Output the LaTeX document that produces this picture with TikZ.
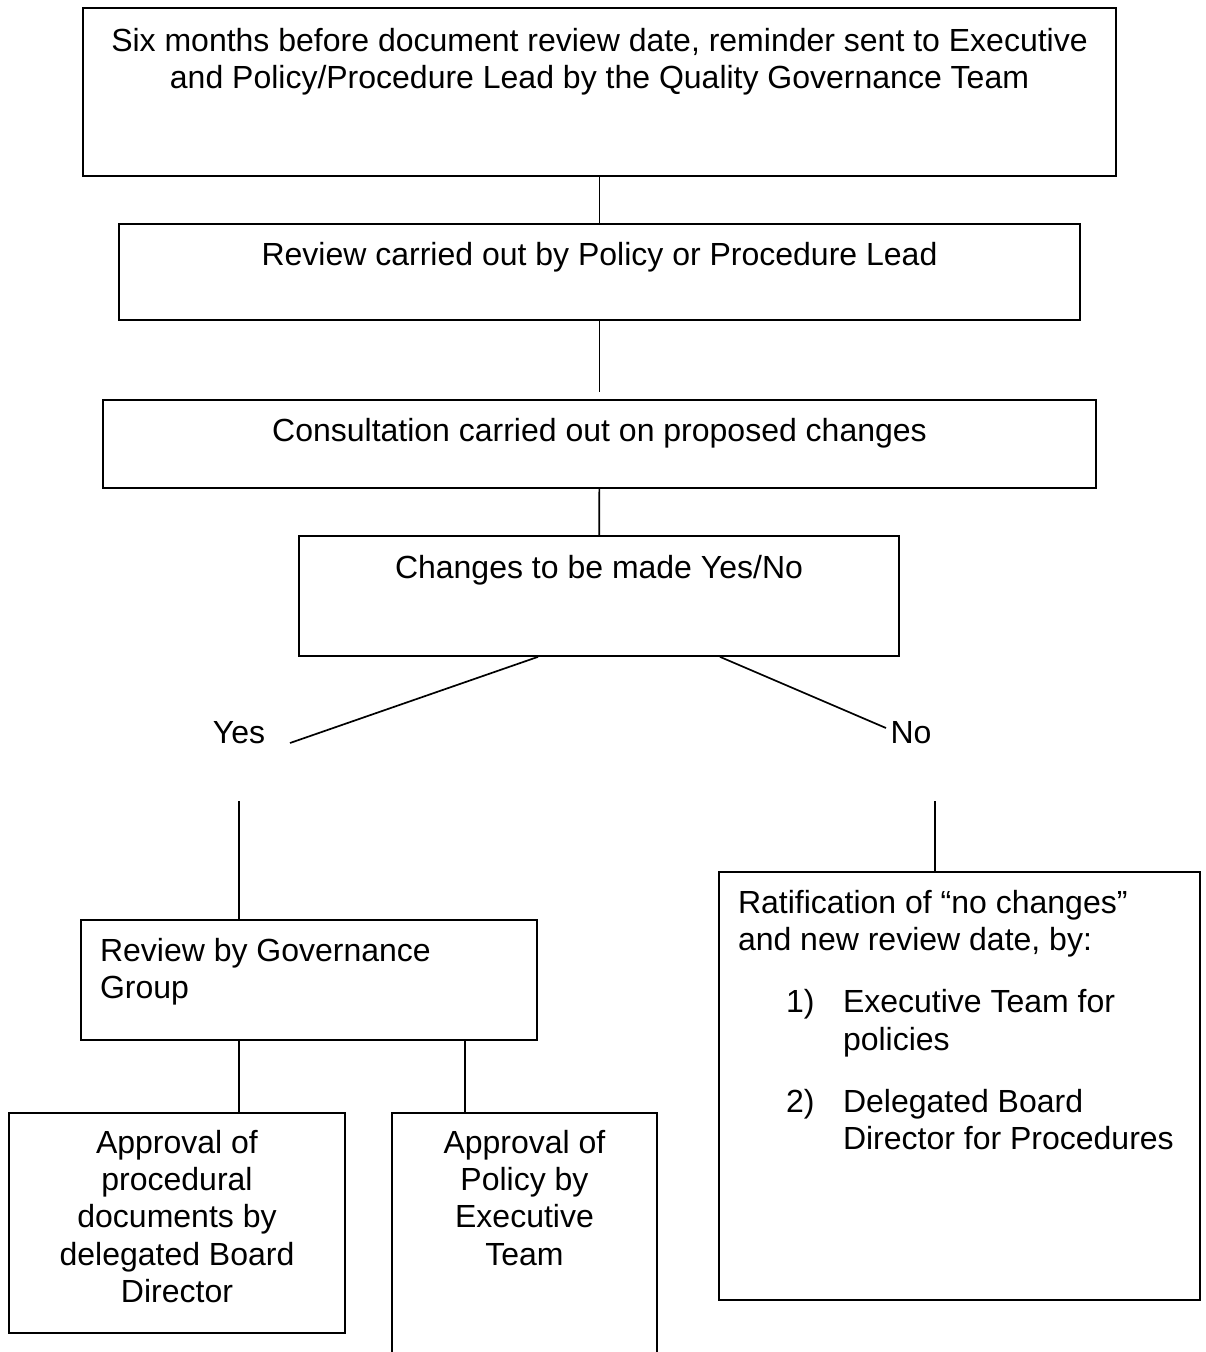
\documentclass[tikz,border=0pt]{standalone}
\usepackage{fontspec}
\setmainfont{Liberation Sans}
\usetikzlibrary{positioning}
\newcommand{\flowfont}{\fontsize{32}{37.3}\selectfont}

\begin{document}
\begin{tikzpicture}[x=1pt, y=-1pt, line width=1.7pt,
    flowbox/.style={draw, inner sep=0pt},
    flowtext/.style={font=\flowfont, inner sep=0pt, align=center},
    lefttext/.style={font=\flowfont, inner sep=0pt, align=left}]
    \useasboundingbox (0,0) rectangle (1205,1352);

    % main column of boxes
    \node[flowbox, minimum width=1033pt, minimum height=168pt] (remind) at (599.5,92) {};
    \node[flowbox, minimum width=961pt, minimum height=96pt] (review) at (599.5,272) {};
    \node[flowbox, minimum width=993pt, minimum height=88pt] (consult) at (599.5,444) {};
    \node[flowbox, minimum width=600pt, minimum height=120pt] (check) at (599,596) {};

    % lower boxes
    \node[flowbox, minimum width=456pt, minimum height=120pt] (govern) at (309,980) {};
    \node[flowbox, minimum width=336pt, minimum height=220pt] (procapp) at (177,1223) {};
    \node[flowbox, minimum width=265pt, minimum height=277pt] (polapp) at (524.5,1251.5) {};
    \node[flowbox, minimum width=481pt, minimum height=428pt] (ratify) at (959.5,1086) {};

    % texts, set at the top of each box
    \node[flowtext, below=20pt of remind.north] (remindtxt) {Six months before document review date, reminder sent to Executive\\and Policy/Procedure Lead by the Quality Governance Team};
    \node[flowtext, below=18pt of review.north] (reviewtxt) {Review carried out by Policy or Procedure Lead};
    \node[flowtext, below=18pt of consult.north] (consulttxt) {Consultation carried out on proposed changes};
    \node[flowtext, below=19pt of check.north] (checktxt) {Changes to be made Yes/No};
    \node[lefttext, below right=18pt and 19pt of govern.north west] (governtxt) {Review by Governance\\Group};
    \node[flowtext, below=17pt of procapp.north] (procapptxt) {Approval of\\procedural\\documents by\\delegated Board\\Director};
    \node[flowtext, below=17pt of polapp.north] (polapptxt) {Approval of\\Policy by\\Executive\\Team};
    \node[lefttext, below right=18pt and 19pt of ratify.north west] (ratifytxt) {Ratification of “no changes”\\and new review date, by:\\[25pt]
        \hspace*{48pt}\makebox[57pt][l]{1)}Executive Team for\\
        \hspace*{105pt}policies\\[25pt]
        \hspace*{48pt}\makebox[57pt][l]{2)}Delegated Board\\
        \hspace*{105pt}Director for Procedures};

    % Yes / No
    \node[flowtext] (yes) at (239,733) {Yes};
    \node[flowtext] (no) at (911,733) {No};

    % free ends of the connectors
    \coordinate (gap) at (599.5,392);
    \coordinate (yesend) at (290,743);
    \coordinate (noend) at (886,728);
    \coordinate (yestop) at (239,801);
    \coordinate (notop) at (935,801);
    \coordinate (govl) at ([xshift=-70pt]govern.south);
    \coordinate (govr) at ([xshift=156pt]govern.south);

    % connectors
    \draw (remind) -- (review);
    \draw (review.south) -- (gap);
    \draw (consult) -- (check);
    \draw ([xshift=-61pt]check.south) -- (yesend);
    \draw ([xshift=121pt]check.south) -- (noend);
    \draw (yestop) -- (yestop |- govern.north);
    \draw (notop) -- (notop |- ratify.north);
    \draw (govl) -- (govl |- procapp.north);
    \draw (govr) -- (govr |- polapp.north);
\end{tikzpicture}
\end{document}
